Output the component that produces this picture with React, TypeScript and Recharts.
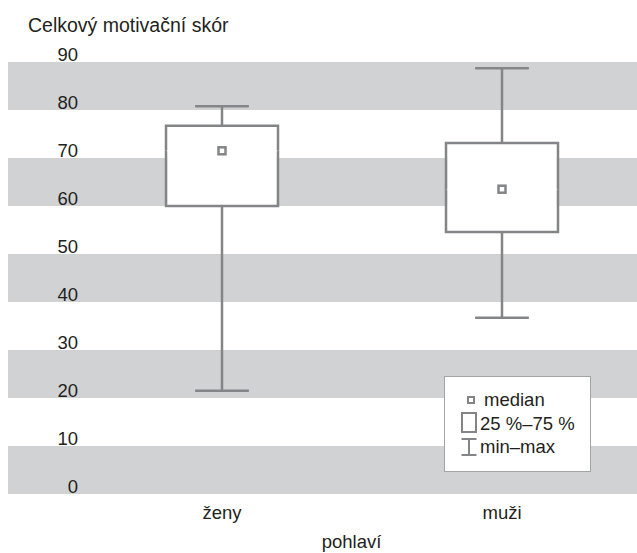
import React from 'react';
import { ComposedChart, Bar, XAxis, YAxis, ReferenceArea } from 'recharts';

// hodnoty
const categories = ['ženy', 'muži'];
const minVals = [21.5, 36.7];
const q1Vals = [60.0, 54.6];
const medianVals = [71.5, 63.5];
const q3Vals = [76.7, 73.1];
const maxVals = [80.8, 88.7];

const yTicks = [0, 10, 20, 30, 40, 50, 60, 70, 80, 90];
const bands = [[0, 10], [20, 30], [40, 50], [60, 70], [80, 90]];

const GREY = '#d1d2d4';
const STROKE = '#838588';
const TEXT = '#231f20';
const FONT = '"Liberation Sans", Arial, sans-serif';
const FS = 18.5;

const data = categories.map((name, i) => ({
  name,
  base: minVals[i],
  whiskerLow: q1Vals[i] - minVals[i],
  boxLow: medianVals[i] - q1Vals[i],
  boxHigh: q3Vals[i] - medianVals[i],
  whiskerHigh: maxVals[i] - q3Vals[i],
}));

const Empty = () => null;

const WhiskerLow = ({ x, y, width, height }: any) => {
  const cx = x + width / 2;
  const capW = width * 0.48;
  return (
    <g stroke={STROKE} strokeWidth={2.5}>
      <line x1={cx} y1={y} x2={cx} y2={y + height} />
      <line x1={cx - capW / 2} y1={y + height} x2={cx + capW / 2} y2={y + height} />
    </g>
  );
};

const WhiskerHigh = ({ x, y, width, height }: any) => {
  const cx = x + width / 2;
  const capW = width * 0.48;
  return (
    <g stroke={STROKE} strokeWidth={2.5}>
      <line x1={cx} y1={y} x2={cx} y2={y + height} />
      <line x1={cx - capW / 2} y1={y} x2={cx + capW / 2} y2={y} />
    </g>
  );
};

const BoxLow = ({ x, y, width, height }: any) => (
  <g>
    <rect x={x + 1.2} y={y - 1} width={width - 2.4} height={height + 1} fill="#fff" />
    <path d={`M${x},${y} L${x},${y + height} L${x + width},${y + height} L${x + width},${y}`} fill="none" stroke={STROKE} strokeWidth={2.5} />
  </g>
);

const BoxHigh = ({ x, y, width, height }: any) => {
  const cx = x + width / 2;
  const my = y + height;
  return (
    <g>
      <rect x={x + 1.2} y={y} width={width - 2.4} height={height + 1} fill="#fff" />
      <path d={`M${x},${my} L${x},${y} L${x + width},${y} L${x + width},${my}`} fill="none" stroke={STROKE} strokeWidth={2.5} />
      <rect x={cx - 3.5} y={my - 3.5} width={7} height={7} fill="#fff" stroke={STROKE} strokeWidth={2.5} />
    </g>
  );
};

const YTick = ({ y, payload }: any) => (
  <text x={78} y={y - 1} textAnchor="end" fontSize={FS} fontFamily={FONT} fill={TEXT}>
    {payload.value}
  </text>
);

const XTick = ({ x, y, payload }: any) => (
  <text x={x} y={y + 17} textAnchor="middle" fontSize={FS} fontFamily={FONT} fill={TEXT}>
    {payload.value}
  </text>
);

const Legend = () => (
  <div style={{ position: 'absolute', left: 444, top: 376, width: 147, height: 96, background: '#fff', border: '1px solid #a3a4a6', boxSizing: 'border-box' }}>
    <svg width={147} height={96} style={{ position: 'absolute', left: -1, top: -1 }}>
      <rect x={24} y={21} width={6} height={6} fill="#fff" stroke={STROKE} strokeWidth={2} />
      <rect x={18} y={37} width={14} height={19} fill="none" stroke={STROKE} strokeWidth={2} />
      <line x1={25} y1={63} x2={25} y2={79} stroke={STROKE} strokeWidth={2} />
      <line x1={17.5} y1={63} x2={32.5} y2={63} stroke={STROKE} strokeWidth={2} />
      <line x1={17.5} y1={79} x2={32.5} y2={79} stroke={STROKE} strokeWidth={2} />
      <text x={40} y={30} fontSize={FS} fontFamily={FONT} fill={TEXT}>median</text>
      <text x={36} y={54} fontSize={FS} fontFamily={FONT} fill={TEXT}>25 %–75 %</text>
      <text x={36} y={77} fontSize={FS} fontFamily={FONT} fill={TEXT}>min–max</text>
    </svg>
  </div>
);

export default function App() {
  return (
    <div style={{ position: 'absolute', left: 0, top: 0, width: 637, height: 553, background: '#fff', overflow: 'hidden' }}>
      <ComposedChart
        width={637}
        height={553}
        data={data}
        margin={{ top: 62, right: 0, bottom: 0, left: 8 }}
        barCategoryGap={0}
      >
        <XAxis xAxisId="bands" dataKey="name" hide />
        {bands.map(([a, b]) => (
          <ReferenceArea key={a} xAxisId="bands" y1={a} y2={b} fill={GREY} fillOpacity={1} stroke="none" />
        ))}
        <XAxis
          dataKey="name"
          height={59}
          axisLine={false}
          tickLine={false}
          padding={{ left: 74, right: -5 }}
          tick={<XTick />}
          interval={0}
        />
        <YAxis
          type="number"
          domain={[0, 90]}
          ticks={yTicks}
          mirror
          axisLine={false}
          tickLine={false}
          tick={<YTick />}
          interval={0}
        />
        <Bar dataKey="base" stackId="b" barSize={112} shape={<Empty />} isAnimationActive={false} />
        <Bar dataKey="whiskerLow" stackId="b" barSize={112} shape={<WhiskerLow />} isAnimationActive={false} />
        <Bar dataKey="boxLow" stackId="b" barSize={112} shape={<BoxLow />} isAnimationActive={false} />
        <Bar dataKey="boxHigh" stackId="b" barSize={112} shape={<BoxHigh />} isAnimationActive={false} />
        <Bar dataKey="whiskerHigh" stackId="b" barSize={112} shape={<WhiskerHigh />} isAnimationActive={false} />
      </ComposedChart>
      <div style={{ position: 'absolute', left: 28, top: 14, fontFamily: FONT, fontSize: 19.5, color: TEXT, whiteSpace: 'nowrap' }}>
        Celkový motivační skór
      </div>
      <div style={{ position: 'absolute', left: 0, width: 637, top: 531, textAlign: 'center', fontFamily: FONT, fontSize: FS, color: TEXT }}>
        <span style={{ position: 'relative', left: 33 }}>pohlaví</span>
      </div>
      <Legend />
    </div>
  );
}
